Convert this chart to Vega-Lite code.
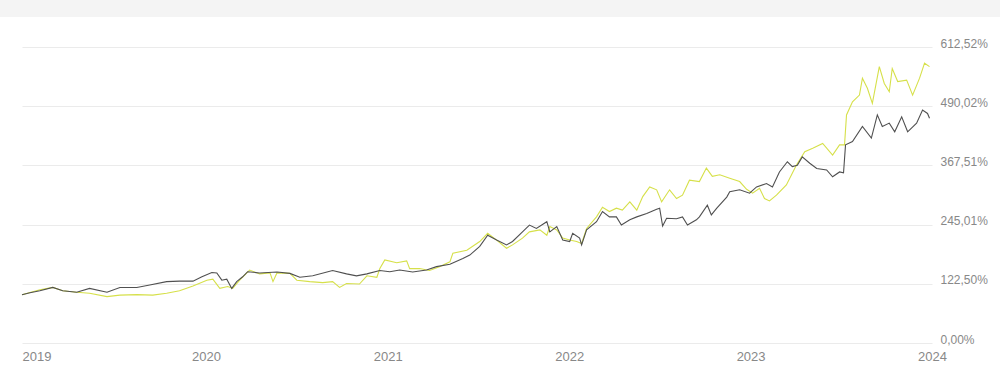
{
  "$schema": "https://vega.github.io/schema/vega-lite/v6.json",
  "background": "white",
  "padding": 0,
  "bounds": "flush",
  "spacing": 30,
  "config": {"view": {"stroke": null}, "font": "Liberation Sans"},
  "datasets": {
    "grau": [
      {"d":"2018-12-27","v":100},{"d":"2019-01-12","v":104},{"d":"2019-02-01","v":108},{"d":"2019-02-27","v":115},{"d":"2019-03-19","v":108},{"d":"2019-04-16","v":105},{"d":"2019-05-12","v":113},{"d":"2019-06-16","v":105},{"d":"2019-07-12","v":115},{"d":"2019-08-15","v":115},{"d":"2019-09-10","v":120},{"d":"2019-10-14","v":127},{"d":"2019-11-09","v":128},{"d":"2019-12-06","v":128},{"d":"2019-12-24","v":137},{"d":"2020-01-13","v":146},{"d":"2020-01-23","v":145},{"d":"2020-02-02","v":130},{"d":"2020-02-12","v":132},{"d":"2020-02-22","v":113},{"d":"2020-03-03","v":127},{"d":"2020-03-15","v":137},{"d":"2020-03-25","v":147.5},{"d":"2020-04-18","v":145},{"d":"2020-05-23","v":147},{"d":"2020-06-18","v":144},{"d":"2020-07-08","v":136},{"d":"2020-08-03","v":139},{"d":"2020-09-12","v":150},{"d":"2020-10-10","v":143},{"d":"2020-10-30","v":139},{"d":"2020-11-20","v":143},{"d":"2020-12-16","v":150},{"d":"2021-01-05","v":147.5},{"d":"2021-01-25","v":151},{"d":"2021-02-20","v":147},{"d":"2021-03-20","v":151},{"d":"2021-04-09","v":158},{"d":"2021-05-06","v":163},{"d":"2021-06-01","v":175},{"d":"2021-06-15","v":182},{"d":"2021-07-05","v":200},{"d":"2021-07-21","v":223},{"d":"2021-08-08","v":213},{"d":"2021-08-28","v":203},{"d":"2021-09-09","v":210},{"d":"2021-09-29","v":230},{"d":"2021-10-13","v":244},{"d":"2021-10-27","v":237},{"d":"2021-11-17","v":251},{"d":"2021-11-23","v":230},{"d":"2021-12-07","v":241},{"d":"2021-12-19","v":213},{"d":"2022-01-02","v":210},{"d":"2022-01-08","v":227},{"d":"2022-01-22","v":217},{"d":"2022-01-26","v":203},{"d":"2022-02-05","v":234},{"d":"2022-02-25","v":251},{"d":"2022-03-09","v":272},{"d":"2022-03-23","v":261},{"d":"2022-04-06","v":261},{"d":"2022-04-16","v":244},{"d":"2022-05-03","v":255},{"d":"2022-05-17","v":261},{"d":"2022-06-06","v":268},{"d":"2022-06-26","v":277},{"d":"2022-07-02","v":279},{"d":"2022-07-08","v":242},{"d":"2022-07-16","v":258},{"d":"2022-08-05","v":257},{"d":"2022-08-17","v":261},{"d":"2022-08-27","v":244},{"d":"2022-09-14","v":255},{"d":"2022-09-20","v":261},{"d":"2022-10-06","v":285},{"d":"2022-10-14","v":265},{"d":"2022-10-25","v":279},{"d":"2022-11-14","v":302},{"d":"2022-11-20","v":313},{"d":"2022-12-10","v":317},{"d":"2022-12-30","v":310},{"d":"2023-01-13","v":323},{"d":"2023-02-02","v":330},{"d":"2023-02-14","v":323},{"d":"2023-02-28","v":354},{"d":"2023-03-16","v":375},{"d":"2023-03-26","v":365},{"d":"2023-04-05","v":368},{"d":"2023-04-15","v":385},{"d":"2023-04-30","v":372},{"d":"2023-05-14","v":361},{"d":"2023-06-03","v":358},{"d":"2023-06-15","v":344},{"d":"2023-06-29","v":354},{"d":"2023-07-07","v":352},{"d":"2023-07-11","v":410},{"d":"2023-07-25","v":417},{"d":"2023-08-14","v":448},{"d":"2023-09-01","v":424},{"d":"2023-09-13","v":472},{"d":"2023-09-23","v":448},{"d":"2023-10-07","v":455},{"d":"2023-10-18","v":437},{"d":"2023-11-01","v":468},{"d":"2023-11-13","v":437},{"d":"2023-12-01","v":455},{"d":"2023-12-13","v":482},{"d":"2023-12-23","v":475},{"d":"2023-12-27","v":465}
    ],
    "gelb": [
      {"d":"2018-12-27","v":100},{"d":"2019-02-01","v":110},{"d":"2019-02-27","v":115},{"d":"2019-03-19","v":108},{"d":"2019-04-16","v":105},{"d":"2019-05-12","v":103},{"d":"2019-06-16","v":96},{"d":"2019-07-12","v":99},{"d":"2019-08-15","v":100},{"d":"2019-09-16","v":99},{"d":"2019-10-14","v":103},{"d":"2019-11-09","v":108},{"d":"2019-12-06","v":118},{"d":"2020-01-03","v":130},{"d":"2020-01-15","v":132},{"d":"2020-01-29","v":113},{"d":"2020-02-14","v":117},{"d":"2020-02-24","v":113},{"d":"2020-03-09","v":130},{"d":"2020-03-29","v":151},{"d":"2020-04-18","v":143},{"d":"2020-05-09","v":145},{"d":"2020-05-15","v":127},{"d":"2020-05-23","v":145},{"d":"2020-06-18","v":144},{"d":"2020-07-02","v":130},{"d":"2020-07-28","v":127},{"d":"2020-08-23","v":125},{"d":"2020-09-12","v":127},{"d":"2020-09-26","v":115},{"d":"2020-10-10","v":123},{"d":"2020-11-05","v":122},{"d":"2020-11-20","v":139},{"d":"2020-12-10","v":136},{"d":"2020-12-16","v":154},{"d":"2020-12-26","v":172},{"d":"2021-01-19","v":166},{"d":"2021-02-08","v":170},{"d":"2021-02-14","v":154},{"d":"2021-03-06","v":154},{"d":"2021-03-26","v":150},{"d":"2021-04-15","v":158},{"d":"2021-05-06","v":168},{"d":"2021-05-12","v":186},{"d":"2021-06-09","v":192},{"d":"2021-07-05","v":210},{"d":"2021-07-21","v":227},{"d":"2021-08-08","v":213},{"d":"2021-08-28","v":196},{"d":"2021-09-09","v":203},{"d":"2021-09-29","v":217},{"d":"2021-10-13","v":230},{"d":"2021-11-03","v":234},{"d":"2021-11-17","v":223},{"d":"2021-11-23","v":241},{"d":"2021-12-07","v":234},{"d":"2021-12-19","v":217},{"d":"2022-01-02","v":213},{"d":"2022-01-16","v":210},{"d":"2022-01-26","v":206},{"d":"2022-02-05","v":237},{"d":"2022-02-25","v":261},{"d":"2022-03-09","v":281},{"d":"2022-03-23","v":272},{"d":"2022-04-06","v":279},{"d":"2022-04-18","v":275},{"d":"2022-05-03","v":292},{"d":"2022-05-17","v":275},{"d":"2022-05-29","v":303},{"d":"2022-06-12","v":323},{"d":"2022-06-26","v":317},{"d":"2022-07-06","v":292},{"d":"2022-07-22","v":317},{"d":"2022-08-05","v":299},{"d":"2022-08-17","v":306},{"d":"2022-08-31","v":337},{"d":"2022-09-20","v":334},{"d":"2022-10-04","v":362},{"d":"2022-10-16","v":345},{"d":"2022-10-31","v":348},{"d":"2022-11-20","v":341},{"d":"2022-12-10","v":334},{"d":"2022-12-24","v":318},{"d":"2023-01-05","v":310},{"d":"2023-01-19","v":320},{"d":"2023-01-29","v":299},{"d":"2023-02-08","v":294},{"d":"2023-02-22","v":306},{"d":"2023-03-14","v":327},{"d":"2023-04-03","v":368},{"d":"2023-04-20","v":396},{"d":"2023-05-06","v":403},{"d":"2023-05-26","v":413},{"d":"2023-06-15","v":389},{"d":"2023-06-29","v":410},{"d":"2023-07-09","v":410},{"d":"2023-07-13","v":472},{"d":"2023-07-25","v":499},{"d":"2023-08-08","v":513},{"d":"2023-08-14","v":548},{"d":"2023-08-24","v":527},{"d":"2023-09-03","v":496},{"d":"2023-09-17","v":572},{"d":"2023-09-27","v":537},{"d":"2023-10-07","v":520},{"d":"2023-10-13","v":568},{"d":"2023-10-24","v":541},{"d":"2023-11-11","v":544},{"d":"2023-11-23","v":513},{"d":"2023-12-07","v":548},{"d":"2023-12-17","v":579},{"d":"2023-12-27","v":572}
    ]
  },
  "vconcat": [
    {
      "width": 1000,
      "height": 17,
      "data": {"values": []},
      "mark": "point",
      "view": {"fill": "#f4f4f4", "stroke": null}
    },
    {
      "bounds": "flush",
      "spacing": 0,
      "hconcat": [
        {
          "width": 22,
          "height": 296,
          "data": {"values": []},
          "mark": "point",
          "view": {"stroke": null}
        },
        {
          "width": 910,
          "height": 296,
          "encoding": {
            "x": {
              "field": "d",
              "type": "temporal",
              "scale": {"type": "utc", "domain": ["2018-12-27", "2024-01-01"]},
              "axis": {
                "title": null,
                "grid": false,
                "domain": false,
                "ticks": false,
                "tickSize": 0,
                "labelPadding": 7,
                "labelFontSize": 13,
                "labelColor": "#888888",
                "labelFont": "Liberation Sans",
                "format": "%Y",
                "formatType": "utc",
                "values": [
                  {"year": 2019, "month": 1, "date": 1, "utc": true},
                  {"year": 2020, "month": 1, "date": 1, "utc": true},
                  {"year": 2021, "month": 1, "date": 1, "utc": true},
                  {"year": 2022, "month": 1, "date": 1, "utc": true},
                  {"year": 2023, "month": 1, "date": 1, "utc": true},
                  {"year": 2024, "month": 1, "date": 1, "utc": true}
                ],
                "labelAlign": {"condition": {"test": "utcyear(datum.value) == 2019", "value": "left"}, "value": "center"},
                "labelOffset": {"condition": {"test": "utcyear(datum.value) == 2019", "value": -2.4}, "value": 0}
              }
            },
            "y": {
              "field": "v",
              "type": "quantitative",
              "scale": {"domain": [0, 612.52], "nice": false, "zero": true},
              "axis": {
                "title": null,
                "orient": "right",
                "grid": true,
                "gridColor": "#ebebeb",
                "gridWidth": 1,
                "domain": false,
                "ticks": false,
                "tickSize": 0,
                "labelPadding": 8,
                "labelFontSize": 12,
                "labelColor": "#888888",
                "labelFont": "Liberation Sans",
                "labelBaseline": "alphabetic",
                "values": [0, 122.504, 245.008, 367.512, 490.016, 612.52],
                "labelExpr": "replace(format(datum.value, '.2f'), '.', ',') + '%'"
              }
            }
          },
          "layer": [
            {
              "data": {"name": "gelb"},
              "mark": {"type": "line", "color": "#d6e04a", "strokeWidth": 1.1, "interpolate": "linear"}
            },
            {
              "data": {"name": "grau"},
              "mark": {"type": "line", "color": "#505050", "strokeWidth": 1.1, "interpolate": "linear"}
            }
          ]
        }
      ]
    }
  ]
}
